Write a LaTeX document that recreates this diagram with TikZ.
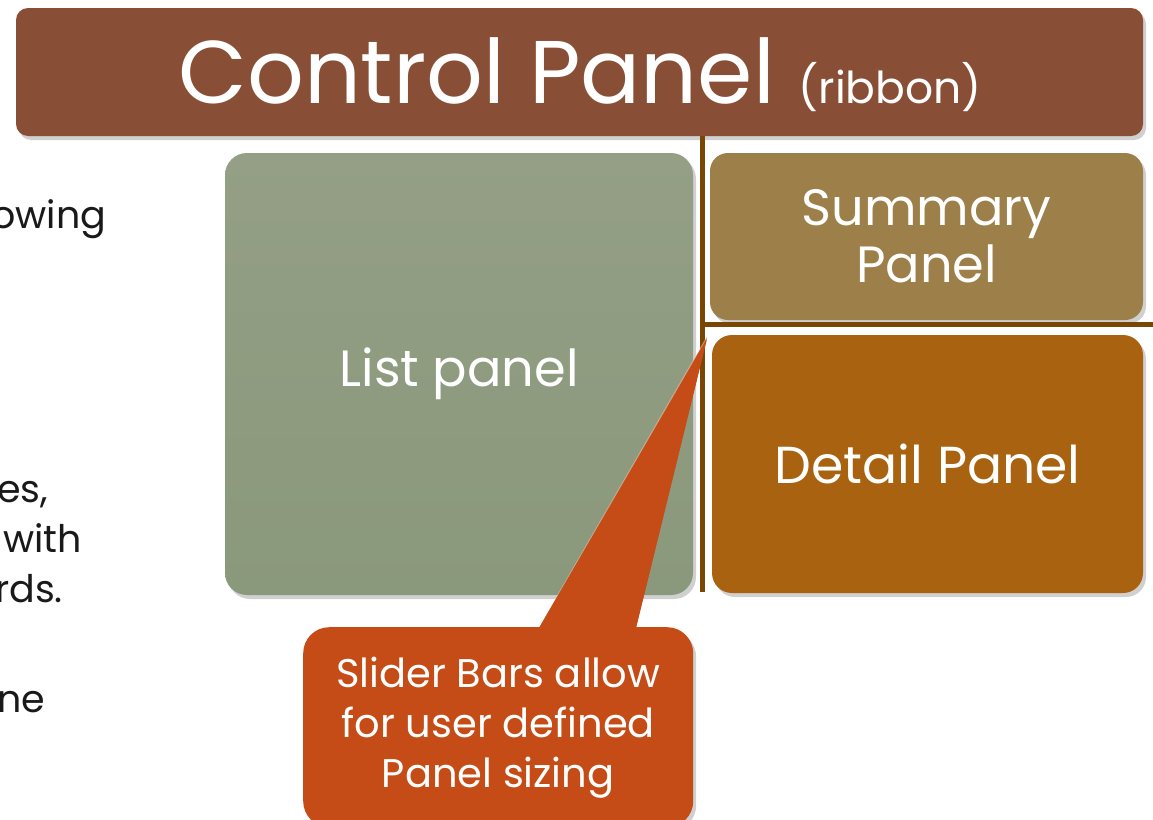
\documentclass[tikz,border=0pt]{standalone}
\usepackage{fontspec}
\setmainfont{Poppins}
\usetikzlibrary{shadows}
\definecolor{ribboncol}{RGB}{137,79,54}
\definecolor{listtop}{RGB}{148,159,133}
\definecolor{listbot}{RGB}{138,152,123}
\definecolor{summarycol}{RGB}{157,128,73}
\definecolor{detailcol}{RGB}{169,98,16}
\definecolor{calloutcol}{RGB}{197,76,22}
\definecolor{barcol}{RGB}{122,70,4}
\definecolor{bodytext}{RGB}{25,25,25}
\tikzset{
  panel/.style={rounded corners=#1, inner sep=0pt, align=center, text=white,
    drop shadow={shadow xshift=3pt, shadow yshift=-4pt, opacity=0.3, fill=black!60}},
  panel/.default=18pt,
  slider/.style={draw=barcol, line width=5pt},
  fragment/.style={anchor=base west, inner sep=0pt, text=bodytext,
    font=\fontsize{38}{38}\selectfont},
  paneltext/.style={font=\fontsize{51}{57}\selectfont},
}
\begin{document}
\begin{tikzpicture}[x=1pt,y=-1pt]
\useasboundingbox (0,0) rectangle (1153,819);
\clip (0,0) rectangle (1153,819);
\fill[white] (0,0) rectangle (1153,819);

% body text running in from the left
\node[fragment] (f1) at (-9,228) {owing};
\node[fragment] (f2) at (-3,502) {es,};
\node[fragment] (f3) at (3,552) {with};
\node[fragment] (f4) at (-5,602) {rds.};
\node[fragment] (f5) at (-3,712) {ne};

% ribbon
\node[panel=12pt, fill=ribboncol, minimum width=1127pt, minimum height=128pt]
  (ribbon) at (579.5,72) {};
\node[anchor=base, text=white, inner sep=0pt, font=\fontsize{89}{89}\selectfont]
  (ribbontext) at (580,103) {Control Panel {\fontsize{44}{44}\selectfont (ribbon)}};

% panels
\node[panel=22pt, top color=listtop, bottom color=listbot, minimum width=468pt,
  minimum height=442pt, paneltext] (list) at (459,374) {List panel};
\node[panel=18pt, fill=summarycol, minimum width=433pt, minimum height=167pt,
  paneltext] (summary) at (926.5,236.5) {Summary\\Panel};
\node[panel=20pt, fill=detailcol, minimum width=431pt, minimum height=258pt,
  font=\fontsize{52}{57}\selectfont, align=center, text=white] (detail) at (927.5,464) {Detail Panel};

% slider bars
\coordinate (vtop) at (702,136);
\coordinate (vbot) at (702,592);
\coordinate (hleft) at (704,324.5);
\coordinate (hright) at (1153,324.5);
\draw[slider] (vtop) -- (vbot);
\draw[slider] (hleft) -- (hright);

% callout
\coordinate (tip) at (707,337);
\coordinate (baseL) at (532,640);
\coordinate (baseR) at (633,640);
\fill[calloutcol] (baseL) -- (tip) -- (baseR) -- cycle;
\draw[white, opacity=0.35, line width=1.2pt] (baseL) -- (tip);
\node[panel=26pt, fill=calloutcol, minimum width=390pt, minimum height=200pt,
  font=\fontsize{40}{50}\selectfont, anchor=north west] (callout) at (303,627)
  {Slider Bars allow\\for user defined\\Panel sizing};
\fill[calloutcol] (baseL) -- ([yshift=-2pt]tip) -- (baseR) -- cycle;
\end{tikzpicture}
\end{document}
